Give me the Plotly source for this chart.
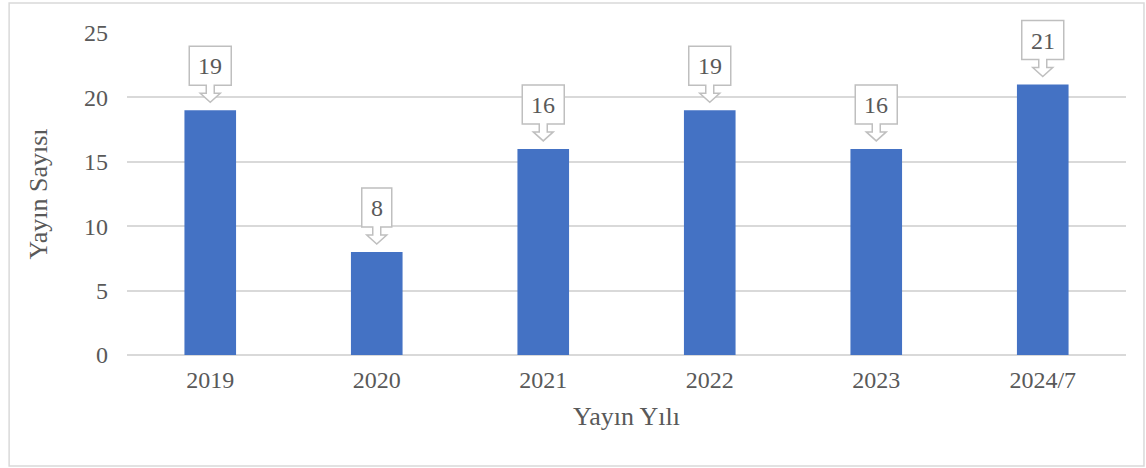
import plotly.graph_objects as go

# data
years = ["2019", "2020", "2021", "2022", "2023", "2024/7"]
counts = [19, 8, 16, 19, 16, 21]
y_ticks = [0, 5, 10, 15, 20, 25]

BAR = "#4472c4"
GRID = "#d9d9d9"
TEXT = "#595959"
CALLOUT = "#bfbfbf"
FONT = "Liberation Serif, Times New Roman, serif"

xs = list(range(len(years)))
y_max = y_ticks[-1]

fig = go.Figure(go.Bar(
    x=xs, y=counts, width=0.31,
    marker=dict(color=BAR, line=dict(width=0)),
    hoverinfo="skip",
))


def callout_path(half_w):
    # box + block arrow, pixel offsets from the bar top (positive = up)
    tip, head, box_b, box_t = 8, 17, 25, 64
    shaft, head_w = 4, 10
    pts = [(-half_w, box_t), (half_w, box_t), (half_w, box_b), (shaft, box_b),
           (shaft, head), (head_w, head), (0, tip), (-head_w, head),
           (-shaft, head), (-shaft, box_b), (-half_w, box_b)]
    return "M " + " L ".join(f"{x},{y}" for x, y in pts) + " Z"


for x, v in zip(xs, counts):
    half_w = 15 if v < 10 else 21
    # y in paper fraction so the callout is not clipped at the plot top
    fig.add_shape(type="path", xref="x", yref="paper",
                  xsizemode="pixel", ysizemode="pixel",
                  xanchor=x, yanchor=v / y_max, path=callout_path(half_w),
                  line=dict(color=CALLOUT, width=1.5), fillcolor="white",
                  layer="above")
    fig.add_annotation(x=x, y=v, text=str(v), showarrow=False,
                       yshift=44, font=dict(size=24, color=TEXT, family=FONT))

# outer chart border
fig.add_shape(type="rect", xref="paper", yref="paper",
              x0=-0.118, x1=1.018, y0=-0.345, y1=1.093,
              line=dict(color=GRID, width=1.5), layer="below")

fig.update_layout(
    width=1146, height=468,
    margin=dict(l=127, r=20, t=33, b=113),
    paper_bgcolor="white", plot_bgcolor="white",
    font=dict(family=FONT, color=TEXT, size=24),
    showlegend=False,
)
fig.update_xaxes(
    tickvals=xs, ticktext=years, range=[-0.5, len(years) - 0.5],
    showgrid=False, zeroline=False, showline=False, ticks="",
    ticklabelstandoff=8, tickfont=dict(size=24, color=TEXT),
    title=dict(text="Yayın Yılı", font=dict(size=26, color=TEXT), standoff=14),
)
fig.update_yaxes(
    range=[0, y_max], tickvals=y_ticks, showgrid=True, gridcolor=GRID,
    gridwidth=1.5, zeroline=True, zerolinecolor=GRID, zerolinewidth=1.5,
    ticks="", ticklabelstandoff=18, tickfont=dict(size=24, color=TEXT),
    title=dict(text="Yayın Sayısı", font=dict(size=26, color=TEXT), standoff=28),
)

fig.write_html("out.html", config={"displayModeBar": False},
               post_script="document.body.style.margin='0';")
